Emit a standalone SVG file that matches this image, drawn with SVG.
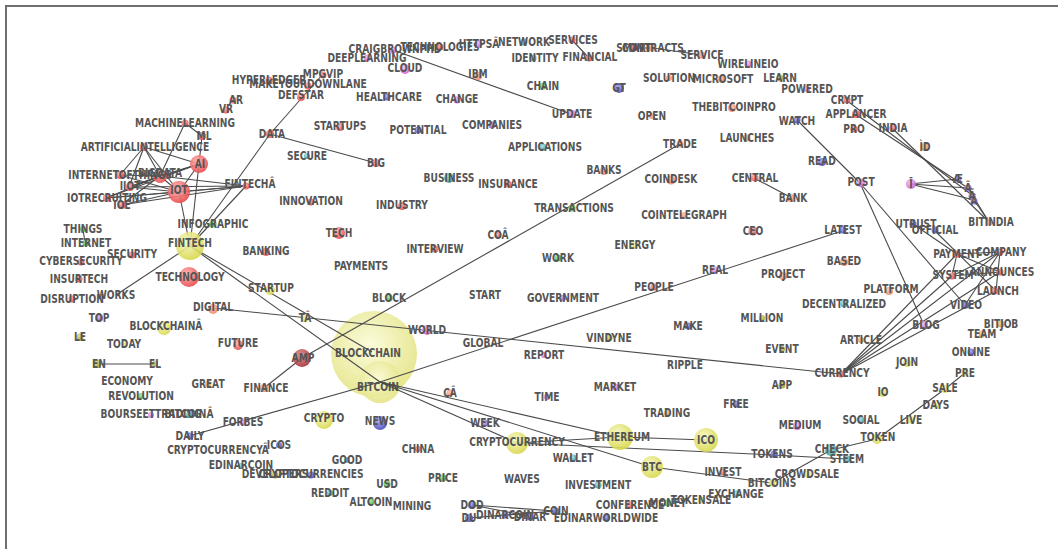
<svg xmlns="http://www.w3.org/2000/svg" width="1058" height="549" viewBox="0 0 1058 549">
<defs>
<radialGradient id="gr" cx="40%" cy="35%" r="65%"><stop offset="0" stop-color="#ffb4b4"/><stop offset="1" stop-color="#e84a4a"/></radialGradient>
<radialGradient id="gy" cx="40%" cy="35%" r="65%"><stop offset="0" stop-color="#f6f6c0"/><stop offset="1" stop-color="#d8d84c"/></radialGradient>
<radialGradient id="gyp" cx="45%" cy="40%" r="60%"><stop offset="0" stop-color="#fbfbd8"/><stop offset="1" stop-color="#e4e486"/></radialGradient>
<radialGradient id="go" cx="40%" cy="35%" r="65%"><stop offset="0" stop-color="#ffc8b4"/><stop offset="1" stop-color="#ef8466"/></radialGradient>
<radialGradient id="gp" cx="40%" cy="35%" r="65%"><stop offset="0" stop-color="#f4c4f4"/><stop offset="1" stop-color="#cf62cf"/></radialGradient>
<radialGradient id="gb" cx="40%" cy="35%" r="65%"><stop offset="0" stop-color="#a8a8f0"/><stop offset="1" stop-color="#4a4ac0"/></radialGradient>
<radialGradient id="gg" cx="40%" cy="35%" r="65%"><stop offset="0" stop-color="#a8e8a8"/><stop offset="1" stop-color="#3cae3c"/></radialGradient>
<radialGradient id="gt" cx="40%" cy="35%" r="65%"><stop offset="0" stop-color="#a8e0e0"/><stop offset="1" stop-color="#3a9e9e"/></radialGradient>
<radialGradient id="gv" cx="40%" cy="35%" r="65%"><stop offset="0" stop-color="#d0b4f0"/><stop offset="1" stop-color="#8a5cc4"/></radialGradient>
<radialGradient id="gl" cx="40%" cy="35%" r="65%"><stop offset="0" stop-color="#e0e08c"/><stop offset="1" stop-color="#9e9e2c"/></radialGradient>
<radialGradient id="gd" cx="40%" cy="35%" r="65%"><stop offset="0" stop-color="#e08a8a"/><stop offset="1" stop-color="#a8303a"/></radialGradient>
<radialGradient id="ga" cx="40%" cy="35%" r="65%"><stop offset="0" stop-color="#f8d0a0"/><stop offset="1" stop-color="#e0903c"/></radialGradient>
<style>
.n text{font-family:"DejaVu Sans Condensed","DejaVu Sans",sans-serif;font-weight:bold;font-size:13px;fill:#555;text-anchor:middle;transform:scaleX(.78)}
.n circle{opacity:.9}
.r{fill:url(#gr)}.y{fill:url(#gy)}.yp{fill:url(#gyp)}.o{fill:url(#go)}.p{fill:url(#gp)}.b{fill:url(#gb)}.g{fill:url(#gg)}.t{fill:url(#gt)}.v{fill:url(#gv)}.l{fill:url(#gl)}.d{fill:url(#gd)}.a{fill:url(#ga)}
#edges line{stroke:#4a4a4a;stroke-width:1.1}
</style>
</defs>
<rect x="0" y="0" width="1058" height="549" fill="#fff"/>
<rect x="6" y="6" width="1070" height="570" fill="#fff" stroke="#6e6e6e" stroke-width="2"/>

<g id="bignodes">
<g id="n-blockchain" class="n" transform="translate(368,352)"><circle cx="6" cy="2" r="43" class="yp"/><text y="4.5">BLOCKCHAIN</text></g>
<g id="n-bitcoin" class="n" transform="translate(378,386)"><circle cx="2" cy="-4" r="21" class="yp"/><text y="4.5">BITCOIN</text></g>
</g>

<g id="edges">
<line x1="393" y1="50" x2="571" y2="114"/>
<line x1="572" y1="40" x2="589" y2="58"/>
<line x1="634" y1="48" x2="653" y2="48"/>
<line x1="653" y1="48" x2="702" y2="55"/>
<line x1="270" y1="134" x2="322" y2="75"/>
<line x1="190" y1="246" x2="270" y2="134"/>
<line x1="270" y1="134" x2="376" y2="163"/>
<line x1="754" y1="178" x2="792" y2="198"/>
<line x1="797" y1="120" x2="860" y2="183"/>
<line x1="860" y1="183" x2="924" y2="325"/>
<line x1="860" y1="183" x2="965" y2="305"/>
<line x1="855" y1="114" x2="968" y2="188"/>
<line x1="846" y1="100" x2="972" y2="195"/>
<line x1="892" y1="128" x2="989" y2="222"/>
<line x1="910" y1="184" x2="958" y2="179"/>
<line x1="910" y1="184" x2="968" y2="188"/>
<line x1="910" y1="184" x2="974" y2="200"/>
<line x1="968" y1="188" x2="989" y2="222"/>
<line x1="974" y1="200" x2="989" y2="222"/>
<line x1="913" y1="224" x2="957" y2="254"/>
<line x1="934" y1="230" x2="996" y2="291"/>
<line x1="957" y1="254" x2="1000" y2="252"/>
<line x1="957" y1="254" x2="952" y2="276"/>
<line x1="952" y1="276" x2="1000" y2="272"/>
<line x1="952" y1="276" x2="1000" y2="252"/>
<line x1="1000" y1="252" x2="996" y2="291"/>
<line x1="957" y1="254" x2="1000" y2="272"/>
<line x1="965" y1="305" x2="1000" y2="252"/>
<line x1="841" y1="374" x2="957" y2="254"/>
<line x1="841" y1="374" x2="1000" y2="252"/>
<line x1="841" y1="374" x2="1000" y2="272"/>
<line x1="841" y1="374" x2="996" y2="291"/>
<line x1="841" y1="374" x2="952" y2="276"/>
<line x1="213" y1="308" x2="841" y2="374"/>
<line x1="380" y1="382" x2="842" y2="231"/>
<line x1="302" y1="358" x2="680" y2="144"/>
<line x1="264" y1="388" x2="302" y2="358"/>
<line x1="189" y1="436" x2="380" y2="382"/>
<line x1="190" y1="246" x2="372" y2="352"/>
<line x1="190" y1="246" x2="380" y2="382"/>
<line x1="190" y1="246" x2="116" y2="295"/>
<line x1="190" y1="246" x2="179" y2="192"/>
<line x1="190" y1="246" x2="199" y2="164"/>
<line x1="190" y1="246" x2="246" y2="186"/>
<line x1="83" y1="229" x2="85" y2="243"/>
<line x1="97" y1="364" x2="155" y2="364"/>
<line x1="380" y1="382" x2="517" y2="443"/>
<line x1="380" y1="382" x2="620" y2="437"/>
<line x1="380" y1="382" x2="652" y2="467"/>
<line x1="517" y1="443" x2="620" y2="437"/>
<line x1="517" y1="443" x2="774" y2="455"/>
<line x1="620" y1="437" x2="706" y2="440"/>
<line x1="652" y1="467" x2="772" y2="483"/>
<line x1="772" y1="483" x2="831" y2="450"/>
<line x1="774" y1="455" x2="847" y2="459"/>
<line x1="965" y1="373" x2="945" y2="389"/>
<line x1="945" y1="389" x2="877" y2="439"/>
<line x1="877" y1="439" x2="831" y2="450"/>
<line x1="472" y1="505" x2="555" y2="511"/>
<line x1="472" y1="505" x2="528" y2="516"/>
<line x1="469" y1="518" x2="555" y2="511"/>
<line x1="185" y1="123" x2="202" y2="136"/>
<line x1="185" y1="123" x2="160" y2="176"/>
<line x1="202" y1="136" x2="199" y2="164"/>
<line x1="144" y1="147" x2="199" y2="164"/>
<line x1="144" y1="147" x2="120" y2="175"/>
<line x1="144" y1="147" x2="129" y2="187"/>
<line x1="144" y1="147" x2="160" y2="176"/>
<line x1="144" y1="147" x2="179" y2="192"/>
<line x1="199" y1="164" x2="160" y2="176"/>
<line x1="199" y1="164" x2="129" y2="187"/>
<line x1="199" y1="164" x2="179" y2="192"/>
<line x1="199" y1="164" x2="106" y2="198"/>
<line x1="160" y1="176" x2="179" y2="192"/>
<line x1="160" y1="176" x2="129" y2="187"/>
<line x1="120" y1="175" x2="179" y2="192"/>
<line x1="120" y1="175" x2="160" y2="176"/>
<line x1="129" y1="187" x2="179" y2="192"/>
<line x1="106" y1="198" x2="179" y2="192"/>
<line x1="106" y1="198" x2="160" y2="176"/>
<line x1="121" y1="205" x2="179" y2="192"/>
<line x1="121" y1="205" x2="160" y2="176"/>
<line x1="129" y1="187" x2="246" y2="186"/>
<line x1="160" y1="176" x2="246" y2="186"/>
<line x1="106" y1="198" x2="246" y2="186"/>
<line x1="121" y1="205" x2="246" y2="186"/>
<line x1="179" y1="192" x2="246" y2="186"/>
</g>

<g id="nodes">
<g id="n-fintech" class="n" transform="translate(190,242)"><circle cy="4" r="14" class="y"/><text y="4.5">FINTECH</text></g>
<g id="n-cryptocurrency" class="n" transform="translate(517,441)"><circle cy="2" r="11" class="y"/><text y="4.5">CRYPTOCURRENCY</text></g>
<g id="n-ethereum" class="n" transform="translate(622,436)"><circle cx="-2" cy="1" r="13" class="y"/><text y="4.5">ETHEREUM</text></g>
<g id="n-ico" class="n" transform="translate(706,439)"><circle cy="1" r="12" class="y"/><text y="4.5">ICO</text></g>
<g id="n-btc" class="n" transform="translate(652,466)"><circle cy="1" r="11" class="y"/><text y="4.5">BTC</text></g>
<g id="n-crypto" class="n" transform="translate(324,417)"><circle cy="3" r="9" class="y"/><text y="4.5">CRYPTO</text></g>
<g id="n-news" class="n" transform="translate(380,420)"><circle cy="3" r="7" class="b"/><text y="4.5">NEWS</text></g>
<g id="n-ai" class="n" transform="translate(200,163)"><circle cx="-1" cy="1" r="9" class="r"/><text y="4.5">AI</text></g>
<g id="n-iot" class="n" transform="translate(179,189)"><circle cy="3" r="11" class="r"/><text y="4.5">IOT</text></g>
<g id="n-technology" class="n" transform="translate(190,276)"><circle cx="-1" cy="1" r="10" class="r"/><text y="4.5">TECHNOLOGY</text></g>
<g id="n-amp" class="n" transform="translate(303,357)"><circle cx="-1" cy="1" r="9" class="d"/><text y="4.5">AMP</text></g>
<g id="n-bigdata" class="n" transform="translate(160,172)"><circle cy="4" r="7" class="r"/><text y="4.5">BIGDATA</text></g>
<g id="n-tech" class="n" transform="translate(339,232)"><circle cy="1" r="6" class="r"/><text y="4.5">TECH</text></g>

<g id="n-craigbrownphd" class="n" transform="translate(395,48)"><circle cx="-2" cy="2" r="3.5" class="p"/><text y="4.5">CRAIGBROWNPHD</text></g>
<g id="n-technologies" class="n" transform="translate(440,46)"><circle cy="1" r="3.5" class="r"/><text y="4.5">TECHNOLOGIES</text></g>
<g id="n-httpsa" class="n" transform="translate(479,43)"><circle cy="1" r="3.5" class="p"/><text y="4.5">HTTPSÂ</text></g>
<g id="n-network" class="n" transform="translate(524,41)"><circle cy="1" r="3.5" class="t"/><text y="4.5">NETWORK</text></g>
<g id="n-services" class="n" transform="translate(573,39)"><circle cx="-1" cy="1" r="3.5" class="r"/><text y="4.5">SERVICES</text></g>
<g id="n-identity" class="n" transform="translate(535,57)"><circle cx="-2" cy="1" r="3.5" class="t"/><text y="4.5">IDENTITY</text></g>
<g id="n-financial" class="n" transform="translate(590,56)"><circle cx="-1" cy="2" r="3.5" class="r"/><text y="4.5">FINANCIAL</text></g>
<g id="n-smart" class="n" transform="translate(634,47)"><circle cy="1" r="3.5" class="d"/><text y="4.5">SMART</text></g>
<g id="n-contracts" class="n" transform="translate(653,47)"><circle cy="1" r="3.5" class="o"/><text y="4.5">CONTRACTS</text></g>
<g id="n-service" class="n" transform="translate(702,54)"><circle cy="1" r="3.5" class="o"/><text y="4.5">SERVICE</text></g>
<g id="n-wirelineio" class="n" transform="translate(748,63)"><circle cy="1" r="3.5" class="p"/><text y="4.5">WIRELINEIO</text></g>
<g id="n-deeplearning" class="n" transform="translate(367,57)"><circle cy="1" r="3.5" class="p"/><text y="4.5">DEEPLEARNING</text></g>
<g id="n-cloud" class="n" transform="translate(405,67)"><circle cy="2" r="5" class="p"/><text y="4.5">CLOUD</text></g>
<g id="n-ibm" class="n" transform="translate(478,73)"><circle cy="3" r="4" class="o"/><text y="4.5">IBM</text></g>
<g id="n-chain" class="n" transform="translate(543,85)"><circle cy="1" r="3.5" class="g"/><text y="4.5">CHAIN</text></g>
<g id="n-gt" class="n" transform="translate(619,87)"><circle cy="1" r="5" class="b"/><text y="4.5">GT</text></g>
<g id="n-solution" class="n" transform="translate(669,77)"><circle cy="1" r="3" class="o"/><text y="4.5">SOLUTION</text></g>
<g id="n-microsoft" class="n" transform="translate(723,78)"><circle cx="-2" cy="1" r="3.5" class="o"/><text y="4.5">MICROSOFT</text></g>
<g id="n-learn" class="n" transform="translate(780,77)"><circle cy="1" r="3.5" class="l"/><text y="4.5">LEARN</text></g>
<g id="n-powered" class="n" transform="translate(807,88)"><circle cy="1" r="3" class="p"/><text y="4.5">POWERED</text></g>
<g id="n-hyperledger" class="n" transform="translate(269,79)"><circle cy="1" r="3.5" class="r"/><text y="4.5">HYPERLEDGER</text></g>
<g id="n-mpgvip" class="n" transform="translate(323,73)"><circle cy="2" r="3.5" class="r"/><text y="4.5">MPGVIP</text></g>
<g id="n-makeyourdownlane" class="n" transform="translate(308,83)"><circle cy="3" r="3.5" class="r"/><text y="4.5">MAKEYOURDOWNLANE</text></g>
<g id="n-defstar" class="n" transform="translate(301,94)"><circle cy="3" r="4" class="r"/><text y="4.5">DEFSTAR</text></g>
<g id="n-ar" class="n" transform="translate(236,99)"><circle cx="-3" cy="1" r="3.5" class="r"/><text y="4.5">AR</text></g>
<g id="n-vr" class="n" transform="translate(226,108)"><circle cy="2" r="3.5" class="r"/><text y="4.5">VR</text></g>
<g id="n-healthcare" class="n" transform="translate(389,96)"><circle cx="-2" cy="1" r="3.5" class="b"/><text y="4.5">HEALTHCARE</text></g>
<g id="n-change" class="n" transform="translate(457,98)"><circle cy="2" r="3.5" class="p"/><text y="4.5">CHANGE</text></g>
<g id="n-update" class="n" transform="translate(572,113)"><circle cy="1" r="4" class="p"/><text y="4.5">UPDATE</text></g>
<g id="n-open" class="n" transform="translate(652,115)"><circle cy="1" r="3" class="o"/><text y="4.5">OPEN</text></g>
<g id="n-thebitcoinpro" class="n" transform="translate(734,106)"><circle cx="-2" cy="2" r="4" class="o"/><text y="4.5">THEBITCOINPRO</text></g>
<g id="n-crypt" class="n" transform="translate(847,99)"><circle cy="1" r="3.5" class="r"/><text y="4.5">CRYPT</text></g>
<g id="n-applancer" class="n" transform="translate(856,113)"><circle cy="1" r="4" class="r"/><text y="4.5">APPLANCER</text></g>
<g id="n-pro" class="n" transform="translate(854,128)"><circle cy="1" r="3.5" class="r"/><text y="4.5">PRO</text></g>
<g id="n-india" class="n" transform="translate(893,127)"><circle cy="1" r="3.5" class="r"/><text y="4.5">INDIA</text></g>
<g id="n-watch" class="n" transform="translate(797,120)"><circle cy="0" r="3.5" class="b"/><text y="4.5">WATCH</text></g>
<g id="n-id" class="n" transform="translate(925,146)"><circle cy="1" r="4" class="a"/><text y="4.5">ÌD</text></g>
<g id="n-machinelearning" class="n" transform="translate(185,122)"><circle cy="1" r="3.5" class="r"/><text y="4.5">MACHINELEARNING</text></g>
<g id="n-ml" class="n" transform="translate(204,135)"><circle cx="-2" cy="1" r="4" class="r"/><text y="4.5">ML</text></g>
<g id="n-artificialintelligence" class="n" transform="translate(145,146)"><circle cx="-1" cy="1" r="4" class="r"/><text y="4.5">ARTIFICIALINTELLIGENCE</text></g>
<g id="n-data" class="n" transform="translate(272,133)"><circle cx="-2" cy="1" r="4" class="r"/><text y="4.5">DATA</text></g>
<g id="n-startups" class="n" transform="translate(340,125)"><circle cy="2" r="4" class="r"/><text y="4.5">STARTUPS</text></g>
<g id="n-potential" class="n" transform="translate(418,129)"><circle cy="1" r="3.5" class="b"/><text y="4.5">POTENTIAL</text></g>
<g id="n-companies" class="n" transform="translate(492,124)"><circle cy="1" r="3.5" class="v"/><text y="4.5">COMPANIES</text></g>
<g id="n-applications" class="n" transform="translate(545,146)"><circle cx="-2" cy="1" r="3.5" class="t"/><text y="4.5">APPLICATIONS</text></g>
<g id="n-trade" class="n" transform="translate(680,143)"><circle cy="1" r="3.5" class="o"/><text y="4.5">TRADE</text></g>
<g id="n-launches" class="n" transform="translate(747,137)"><circle cy="1" r="3.5" class="o"/><text y="4.5">LAUNCHES</text></g>
<g id="n-read" class="n" transform="translate(822,160)"><circle cy="2" r="4" class="b"/><text y="4.5">READ</text></g>
<g id="n-post" class="n" transform="translate(861,181)"><circle cy="2" r="4" class="p"/><text y="4.5">POST</text></g>
<g id="n-secure" class="n" transform="translate(307,155)"><circle cy="1" r="3" class="t"/><text y="4.5">SECURE</text></g>
<g id="n-big" class="n" transform="translate(376,162)"><circle cy="1" r="4" class="r"/><text y="4.5">BIG</text></g>
<g id="n-business" class="n" transform="translate(449,177)"><circle cy="1" r="5" class="t"/><text y="4.5">BUSINESS</text></g>
<g id="n-insurance" class="n" transform="translate(508,183)"><circle cy="1" r="3.5" class="r"/><text y="4.5">INSURANCE</text></g>
<g id="n-banks" class="n" transform="translate(604,169)"><circle cy="2" r="4" class="o"/><text y="4.5">BANKS</text></g>
<g id="n-coindesk" class="n" transform="translate(671,178)"><circle cy="2" r="4.5" class="o"/><text y="4.5">COINDESK</text></g>
<g id="n-central" class="n" transform="translate(755,177)"><circle cy="1" r="3.5" class="r"/><text y="4.5">CENTRAL</text></g>
<g id="n-bank" class="n" transform="translate(793,197)"><circle cx="-2" cy="1" r="4" class="o"/><text y="4.5">BANK</text></g>
<g id="n-internetofthings" class="n" transform="translate(120,174)"><circle cy="1" r="4" class="r"/><text y="4.5">INTERNETOFTHINGS</text></g>
<g id="n-iiot" class="n" transform="translate(130,185)"><circle cy="2" r="4" class="r"/><text y="4.5">IIOT</text></g>
<g id="n-iotrecruiting" class="n" transform="translate(107,197)"><circle cy="1" r="4" class="r"/><text y="4.5">IOTRECRUITING</text></g>
<g id="n-ioe" class="n" transform="translate(122,204)"><circle cy="1" r="4" class="r"/><text y="4.5">IOE</text></g>
<g id="n-fintecha" class="n" transform="translate(250,183)"><circle cx="-4" cy="3" r="3.5" class="r"/><text y="4.5">FINTECHÂ</text></g>
<g id="n-innovation" class="n" transform="translate(311,200)"><circle cy="2" r="3.5" class="r"/><text y="4.5">INNOVATION</text></g>
<g id="n-industry" class="n" transform="translate(402,204)"><circle cy="2" r="4" class="r"/><text y="4.5">INDUSTRY</text></g>
<g id="n-transactions" class="n" transform="translate(574,207)"><circle cx="-2" cy="1" r="3.5" class="g"/><text y="4.5">TRANSACTIONS</text></g>
<g id="n-cointelegraph" class="n" transform="translate(684,214)"><circle cy="1" r="3" class="o"/><text y="4.5">COINTELEGRAPH</text></g>
<g id="n-infographic" class="n" transform="translate(213,223)"><circle cy="1" r="3.5" class="g"/><text y="4.5">INFOGRAPHIC</text></g>
<g id="n-things" class="n" transform="translate(83,228)"><circle cy="1" r="3" class="g"/><text y="4.5">THINGS</text></g>
<g id="n-coa" class="n" transform="translate(498,234)"><circle cy="1" r="3.5" class="r"/><text y="4.5">COÂ</text></g>
<g id="n-ceo" class="n" transform="translate(753,230)"><circle cy="1" r="4.5" class="r"/><text y="4.5">CEO</text></g>
<g id="n-latest" class="n" transform="translate(843,229)"><circle cy="1" r="3.5" class="b"/><text y="4.5">LATEST</text></g>
<g id="n-utrust" class="n" transform="translate(916,223)"><circle cx="-3" cy="1" r="3.5" class="b"/><text y="4.5">UTRUST</text></g>
<g id="n-official" class="n" transform="translate(935,229)"><circle cy="1" r="3.5" class="b"/><text y="4.5">OFFICIAL</text></g>
<g id="n-bitindia" class="n" transform="translate(991,221)"><circle cx="-2" cy="1" r="3.5" class="o"/><text y="4.5">BITINDIA</text></g>
<g id="n-internet" class="n" transform="translate(86,242)"><circle cy="1" r="3.5" class="g"/><text y="4.5">INTERNET</text></g>
<g id="n-banking" class="n" transform="translate(266,250)"><circle cy="2" r="4" class="r"/><text y="4.5">BANKING</text></g>
<g id="n-interview" class="n" transform="translate(435,248)"><circle cy="1" r="3.5" class="r"/><text y="4.5">INTERVIEW</text></g>
<g id="n-energy" class="n" transform="translate(635,244)"><circle cy="1" r="3.5" class="y"/><text y="4.5">ENERGY</text></g>
<g id="n-work" class="n" transform="translate(558,257)"><circle cy="1" r="3.5" class="g"/><text y="4.5">WORK</text></g>
<g id="n-security" class="n" transform="translate(132,253)"><circle cy="2" r="3.5" class="r"/><text y="4.5">SECURITY</text></g>
<g id="n-cybersecurity" class="n" transform="translate(81,260)"><circle cy="2" r="3.5" class="r"/><text y="4.5">CYBERSECURITY</text></g>
<g id="n-payments" class="n" transform="translate(361,265)"><text y="4.5">PAYMENTS</text></g>
<g id="n-based" class="n" transform="translate(844,260)"><circle cy="2" r="4" class="o"/><text y="4.5">BASED</text></g>
<g id="n-payment" class="n" transform="translate(957,253)"><circle cy="1" r="3.5" class="r"/><text y="4.5">PAYMENT</text></g>
<g id="n-company" class="n" transform="translate(1001,251)"><circle cx="-1" cy="1" r="3.5" class="r"/><text y="4.5">COMPANY</text></g>
<g id="n-real" class="n" transform="translate(715,269)"><circle cy="1" r="3.5" class="p"/><text y="4.5">REAL</text></g>
<g id="n-project" class="n" transform="translate(783,273)"><circle cy="3" r="4" class="o"/><text y="4.5">PROJECT</text></g>
<g id="n-system" class="n" transform="translate(953,274)"><circle cx="-1" cy="2" r="3.5" class="r"/><text y="4.5">SYSTEM</text></g>
<g id="n-announces" class="n" transform="translate(1002,271)"><circle cx="-2" cy="1" r="3.5" class="r"/><text y="4.5">ANNOUNCES</text></g>
<g id="n-insurtech" class="n" transform="translate(79,278)"><circle cy="1" r="3.5" class="r"/><text y="4.5">INSURTECH</text></g>
<g id="n-startup" class="n" transform="translate(271,287)"><circle cx="-1" cy="3" r="5" class="y"/><text y="4.5">STARTUP</text></g>
<g id="n-people" class="n" transform="translate(654,286)"><circle cy="1" r="3.5" class="r"/><text y="4.5">PEOPLE</text></g>
<g id="n-launch" class="n" transform="translate(998,290)"><circle cx="-3" cy="1" r="3.5" class="r"/><text y="4.5">LAUNCH</text></g>
<g id="n-platform" class="n" transform="translate(891,288)"><circle cx="-2" cy="3" r="4" class="o"/><text y="4.5">PLATFORM</text></g>
<g id="n-works" class="n" transform="translate(116,294)"><text y="4.5">WORKS</text></g>
<g id="n-disruption" class="n" transform="translate(72,298)"><circle cy="1" r="3.5" class="r"/><text y="4.5">DISRUPTION</text></g>
<g id="n-block" class="n" transform="translate(389,297)"><circle cy="1" r="3.5" class="g"/><text y="4.5">BLOCK</text></g>
<g id="n-start" class="n" transform="translate(485,294)"><text y="4.5">START</text></g>
<g id="n-government" class="n" transform="translate(563,297)"><circle cy="1" r="3" class="v"/><text y="4.5">GOVERNMENT</text></g>
<g id="n-decentralized" class="n" transform="translate(844,303)"><circle cy="1" r="3.5" class="t"/><text y="4.5">DECENTRALIZED</text></g>
<g id="n-video" class="n" transform="translate(966,304)"><circle cy="1" r="3.5" class="b"/><text y="4.5">VIDEO</text></g>
<g id="n-digital" class="n" transform="translate(213,306)"><circle cy="3" r="5" class="o"/><text y="4.5">DIGITAL</text></g>
<g id="n-top" class="n" transform="translate(99,317)"><circle cy="1" r="4" class="v"/><text y="4.5">TOP</text></g>
<g id="n-ta" class="n" transform="translate(305,317)"><circle cy="1" r="4" class="y"/><text y="4.5">TÂ</text></g>
<g id="n-million" class="n" transform="translate(762,317)"><circle cy="1" r="3" class="l"/><text y="4.5">MILLION</text></g>
<g id="n-make" class="n" transform="translate(688,325)"><circle cy="1" r="3.5" class="b"/><text y="4.5">MAKE</text></g>
<g id="n-blog" class="n" transform="translate(926,324)"><circle cx="-2" cy="1" r="4" class="p"/><text y="4.5">BLOG</text></g>
<g id="n-bitjob" class="n" transform="translate(1001,323)"><circle cy="1" r="3.5" class="a"/><text y="4.5">BITJOB</text></g>
<g id="n-blockchaina" class="n" transform="translate(166,325)"><circle cx="-2" cy="3" r="7" class="y"/><text y="4.5">BLOCKCHAINÂ</text></g>
<g id="n-world" class="n" transform="translate(427,329)"><circle cy="1" r="5" class="p"/><text y="4.5">WORLD</text></g>
<g id="n-le" class="n" transform="translate(80,336)"><circle cy="1" r="3.5" class="l"/><text y="4.5">LE</text></g>
<g id="n-vindyne" class="n" transform="translate(609,337)"><circle cy="1" r="3.5" class="l"/><text y="4.5">VINDYNE</text></g>
<g id="n-article" class="n" transform="translate(861,339)"><circle cy="1" r="3" class="a"/><text y="4.5">ARTICLE</text></g>
<g id="n-team" class="n" transform="translate(982,333)"><circle cy="1" r="3.5" class="a"/><text y="4.5">TEAM</text></g>
<g id="n-global" class="n" transform="translate(483,342)"><text y="4.5">GLOBAL</text></g>
<g id="n-today" class="n" transform="translate(124,343)"><circle cy="1" r="3" class="y"/><text y="4.5">TODAY</text></g>
<g id="n-future" class="n" transform="translate(238,342)"><circle cy="3" r="5" class="r"/><text y="4.5">FUTURE</text></g>
<g id="n-event" class="n" transform="translate(782,348)"><circle cy="1" r="3" class="l"/><text y="4.5">EVENT</text></g>
<g id="n-online" class="n" transform="translate(971,351)"><circle cy="1" r="3.5" class="b"/><text y="4.5">ONLINE</text></g>
<g id="n-report" class="n" transform="translate(544,354)"><circle cy="1" r="3" class="p"/><text y="4.5">REPORT</text></g>
<g id="n-join" class="n" transform="translate(907,361)"><circle cy="2" r="4" class="y"/><text y="4.5">JOIN</text></g>
<g id="n-en" class="n" transform="translate(99,363)"><circle cx="-2" cy="1" r="4" class="l"/><text y="4.5">EN</text></g>
<g id="n-el" class="n" transform="translate(155,363)"><circle cy="1" r="3" class="l"/><text y="4.5">EL</text></g>
<g id="n-ripple" class="n" transform="translate(685,364)"><text y="4.5">RIPPLE</text></g>
<g id="n-currency" class="n" transform="translate(842,372)"><circle cx="-1" cy="2" r="3.5" class="r"/><text y="4.5">CURRENCY</text></g>
<g id="n-pre" class="n" transform="translate(965,372)"><circle cy="1" r="3.5" class="y"/><text y="4.5">PRE</text></g>
<g id="n-economy" class="n" transform="translate(127,380)"><text y="4.5">ECONOMY</text></g>
<g id="n-great" class="n" transform="translate(208,383)"><circle cy="1" r="3" class="a"/><text y="4.5">GREAT</text></g>
<g id="n-finance" class="n" transform="translate(266,387)"><circle cx="-2" cy="1" r="4" class="o"/><text y="4.5">FINANCE</text></g>
<g id="n-market" class="n" transform="translate(615,386)"><circle cy="1" r="3.5" class="p"/><text y="4.5">MARKET</text></g>
<g id="n-app" class="n" transform="translate(782,384)"><circle cy="1" r="3.5" class="l"/><text y="4.5">APP</text></g>
<g id="n-ca" class="n" transform="translate(450,392)"><circle cy="1" r="3.5" class="o"/><text y="4.5">CÂ</text></g>
<g id="n-io" class="n" transform="translate(883,391)"><circle cy="2" r="4" class="y"/><text y="4.5">IO</text></g>
<g id="n-sale" class="n" transform="translate(945,387)"><circle cy="2" r="4" class="y"/><text y="4.5">SALE</text></g>
<g id="n-revolution" class="n" transform="translate(141,395)"><circle cy="1" r="3" class="g"/><text y="4.5">REVOLUTION</text></g>
<g id="n-time" class="n" transform="translate(547,396)"><circle cy="1" r="3" class="p"/><text y="4.5">TIME</text></g>
<g id="n-free" class="n" transform="translate(736,403)"><circle cy="1" r="3.5" class="b"/><text y="4.5">FREE</text></g>
<g id="n-days" class="n" transform="translate(936,404)"><circle cy="1" r="3.5" class="y"/><text y="4.5">DAYS</text></g>
<g id="n-trading" class="n" transform="translate(667,412)"><circle cy="1" r="3" class="a"/><text y="4.5">TRADING</text></g>
<g id="n-bourseettrading" class="n" transform="translate(151,413)"><circle cy="2" r="3" class="p"/><text y="4.5">BOURSEETTRADING</text></g>
<g id="n-bitcoina" class="n" transform="translate(189,413)"><circle cy="2" r="3" class="t"/><text y="4.5">BITCOINÂ</text></g>
<g id="n-week" class="n" transform="translate(485,422)"><circle cy="1" r="3.5" class="v"/><text y="4.5">WEEK</text></g>
<g id="n-forbes" class="n" transform="translate(243,421)"><circle cy="1" r="3.5" class="p"/><text y="4.5">FORBES</text></g>
<g id="n-social" class="n" transform="translate(861,419)"><circle cy="1" r="3.5" class="t"/><text y="4.5">SOCIAL</text></g>
<g id="n-live" class="n" transform="translate(911,419)"><circle cy="1" r="3.5" class="y"/><text y="4.5">LIVE</text></g>
<g id="n-medium" class="n" transform="translate(800,424)"><circle cx="-3" cy="2" r="4" class="p"/><text y="4.5">MEDIUM</text></g>
<g id="n-daily" class="n" transform="translate(190,435)"><circle cy="1" r="3.5" class="b"/><text y="4.5">DAILY</text></g>
<g id="n-token" class="n" transform="translate(878,436)"><circle cx="-1" cy="3" r="5" class="y"/><text y="4.5">TOKEN</text></g>
<g id="n-cryptocurrencya" class="n" transform="translate(218,449)"><text y="4.5">CRYPTOCURRENCYÂ</text></g>
<g id="n-icos" class="n" transform="translate(279,444)"><circle cy="1" r="3" class="b"/><text y="4.5">ICOS</text></g>
<g id="n-china" class="n" transform="translate(418,448)"><circle cy="1" r="3" class="r"/><text y="4.5">CHINA</text></g>
<g id="n-check" class="n" transform="translate(832,448)"><circle cx="-1" cy="2" r="6" class="t"/><text y="4.5">CHECK</text></g>
<g id="n-wallet" class="n" transform="translate(573,457)"><circle cy="1" r="3.5" class="t"/><text y="4.5">WALLET</text></g>
<g id="n-tokens" class="n" transform="translate(772,453)"><circle cx="2" cy="1" r="3.5" class="b"/><text y="4.5">TOKENS</text></g>
<g id="n-steem" class="n" transform="translate(847,458)"><circle cy="1" r="3.5" class="t"/><text y="4.5">STEEM</text></g>
<g id="n-good" class="n" transform="translate(347,459)"><circle cy="1" r="3" class="t"/><text y="4.5">GOOD</text></g>
<g id="n-edinarcoin" class="n" transform="translate(241,464)"><circle cy="2" r="3" class="t"/><text y="4.5">EDINARCOIN</text></g>
<g id="n-invest" class="n" transform="translate(723,471)"><circle cy="1" r="3.5" class="r"/><text y="4.5">INVEST</text></g>
<g id="n-crowdsale" class="n" transform="translate(807,473)"><circle cy="1" r="3.5" class="y"/><text y="4.5">CROWDSALE</text></g>
<g id="n-developers" class="n" transform="translate(275,473)"><circle cy="2" r="3.5" class="l"/><text y="4.5">DEVELOPERS</text></g>
<g id="n-cryptocurrencies" class="n" transform="translate(311,473)"><circle cy="2" r="3.5" class="b"/><text y="4.5">CRYPTOCURRENCIES</text></g>
<g id="n-price" class="n" transform="translate(443,477)"><circle cy="1" r="3.5" class="g"/><text y="4.5">PRICE</text></g>
<g id="n-waves" class="n" transform="translate(522,478)"><text y="4.5">WAVES</text></g>
<g id="n-usd" class="n" transform="translate(387,483)"><circle cy="1" r="3.5" class="g"/><text y="4.5">USD</text></g>
<g id="n-bitcoins" class="n" transform="translate(772,482)"><circle cy="1" r="3.5" class="y"/><text y="4.5">BITCOINS</text></g>
<g id="n-investment" class="n" transform="translate(598,484)"><circle cy="1" r="3.5" class="t"/><text y="4.5">INVESTMENT</text></g>
<g id="n-reddit" class="n" transform="translate(330,492)"><circle cy="1" r="3" class="t"/><text y="4.5">REDDIT</text></g>
<g id="n-exchange" class="n" transform="translate(736,493)"><circle cy="1" r="3.5" class="t"/><text y="4.5">EXCHANGE</text></g>
<g id="n-tokensale" class="n" transform="translate(701,499)"><circle cy="1" r="3.5" class="y"/><text y="4.5">TOKENSALE</text></g>
<g id="n-altcoin" class="n" transform="translate(371,501)"><circle cy="1" r="3.5" class="g"/><text y="4.5">ALTCOIN</text></g>
<g id="n-mining" class="n" transform="translate(412,505)"><text y="4.5">MINING</text></g>
<g id="n-money" class="n" transform="translate(668,502)"><circle cy="1" r="3.5" class="g"/><text y="4.5">MONEY</text></g>
<g id="n-conference" class="n" transform="translate(630,504)"><circle cy="1" r="3.5" class="r"/><text y="4.5">CONFERENCE</text></g>
<g id="n-dod" class="n" transform="translate(472,504)"><circle cy="1" r="4" class="b"/><text y="4.5">DOD</text></g>
<g id="n-du" class="n" transform="translate(469,517)"><circle cy="1" r="4" class="b"/><text y="4.5">DU</text></g>
<g id="n-dinarcoin" class="n" transform="translate(505,514)"><circle cy="1" r="3.5" class="b"/><text y="4.5">DINARCOIN</text></g>
<g id="n-dinar" class="n" transform="translate(530,516)"><circle cy="1" r="3.5" class="b"/><text y="4.5">DINAR</text></g>
<g id="n-coin" class="n" transform="translate(556,510)"><circle cy="1" r="3.5" class="b"/><text y="4.5">COIN</text></g>
<g id="n-edinarworldwide" class="n" transform="translate(606,517)"><circle cy="1" r="3.5" class="b"/><text y="4.5">EDINARWORLDWIDE</text></g>
<g id="n-imacron" class="n" transform="translate(911,183)"><circle cy="1" r="5" class="p"/><text y="4.5">Ī</text></g>
<g id="n-ae" class="n" transform="translate(958,178)"><circle cy="1" r="3.5" class="v"/><text y="4.5">Æ</text></g>
<g id="n-auml" class="n" transform="translate(968,187)"><circle cy="1" r="3.5" class="v"/><text y="4.5">Ä</text></g>
<g id="n-atilde" class="n" transform="translate(972,195)"><circle cy="1" r="3.5" class="v"/><text y="4.5">Ã</text></g>
<g id="n-acirc" class="n" transform="translate(974,200)"><circle cy="1" r="3.5" class="v"/><text y="4.5">Â</text></g>
</g>
</svg>
